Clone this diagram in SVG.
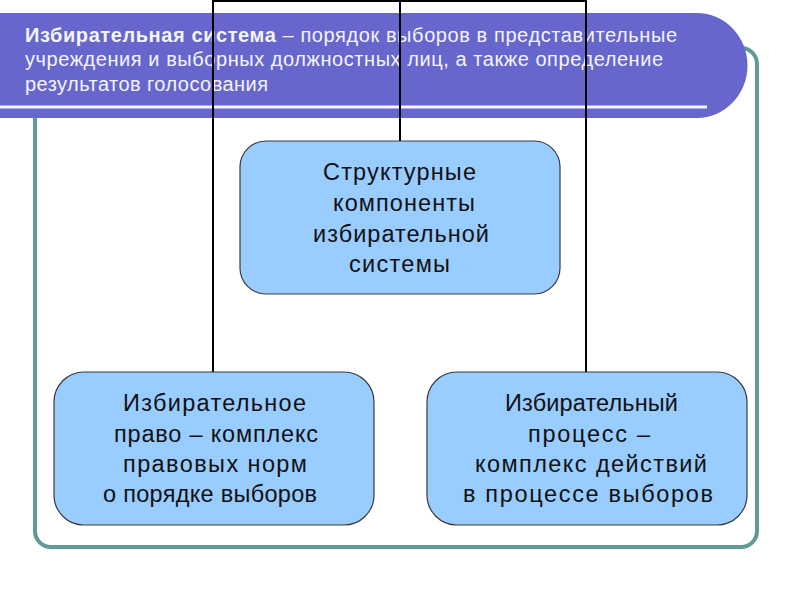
<svg xmlns="http://www.w3.org/2000/svg" width="800" height="600" viewBox="0 0 800 600">
<style>
.frame{fill:none;stroke:#5f9b94;stroke-width:4}
.box{fill:#99ccff;stroke:#3a3a3a;stroke-width:1.2}
.lbl{font-family:"Liberation Sans",Arial,sans-serif;font-size:23.5px;fill:#111}
.hdr{font-family:"Liberation Sans",Arial,sans-serif;font-size:20px;fill:#f4f4ff}
.conn{fill:none;stroke:#000;stroke-width:2}
</style>
<rect width="800" height="600" fill="#ffffff"/>
<rect class="frame" x="35" y="48" width="722" height="499" rx="16"/>
<g id="banner">
<path d="M0,13 H697 A50,52 0 0 1 697,118 H0 Z" fill="#6666cc"/>
<rect x="0" y="105.5" width="707" height="3" fill="#f4f4ff"/>
<text class="hdr"><tspan x="25" y="42" textLength="652" lengthAdjust="spacing"><tspan font-weight="bold">Избирательная система</tspan> – порядок выборов в представительные</tspan></text>
<text class="hdr" x="25" y="66" textLength="638" lengthAdjust="spacing">учреждения и выборных должностных лиц, а также определение</text>
<text class="hdr" x="25" y="91" textLength="243" lengthAdjust="spacing">результатов голосования</text>
</g>
<g id="connectors">
<path class="conn" d="M213,372 V1 H586 V372"/>
<path class="conn" d="M400,1 V141"/>
</g>
<g id="center">
<rect class="box" x="240" y="141" width="320" height="153" rx="26"/>
<text class="lbl" x="323" y="180" textLength="153" lengthAdjust="spacing">Структурные</text>
<text class="lbl" x="333" y="211" textLength="142" lengthAdjust="spacing">компоненты</text>
<text class="lbl" x="313" y="242" textLength="176" lengthAdjust="spacing">избирательной</text>
<text class="lbl" x="349" y="272" textLength="101" lengthAdjust="spacing">системы</text>
</g>
<g id="left">
<rect class="box" x="54" y="372" width="320" height="153" rx="30"/>
<text class="lbl" x="123" y="411" textLength="183" lengthAdjust="spacing">Избирательное</text>
<text class="lbl" x="114" y="442" textLength="204" lengthAdjust="spacing">право – комплекс</text>
<text class="lbl" x="123" y="472" textLength="184" lengthAdjust="spacing">правовых норм</text>
<text class="lbl" x="103" y="502" textLength="214" lengthAdjust="spacing">о порядке выборов</text>
</g>
<g id="right">
<rect class="box" x="427" y="372" width="320" height="153" rx="30"/>
<text class="lbl" x="505" y="411" textLength="173" lengthAdjust="spacing">Избирательный</text>
<text class="lbl" x="528" y="442" textLength="122" lengthAdjust="spacing">процесс –</text>
<text class="lbl" x="475" y="472" textLength="232" lengthAdjust="spacing">комплекс действий</text>
<text class="lbl" x="463" y="502" textLength="250" lengthAdjust="spacing">в процессе выборов</text>
</g>
</svg>
